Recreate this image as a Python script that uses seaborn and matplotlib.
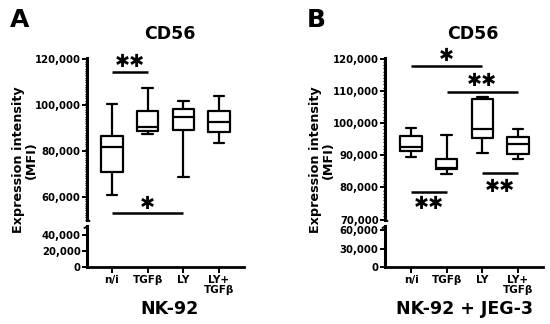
import matplotlib
matplotlib.use('Agg')
import matplotlib.pyplot as plt
import matplotlib.ticker as mticker
from matplotlib.lines import Line2D
import numpy as np
import pandas as pd
import seaborn as sns

# Группы (ось X)
groups = ['n/i', 'TGFβ', 'LY', 'LY+\nTGFβ']

# NK-92: min, Q1, медиана, Q3, max
nk92_ni = [60600, 70650, 81700, 86640, 100350]
nk92_tgfb = [87250, 88690, 90300, 97420, 107330]
nk92_ly = [68600, 89120, 94930, 98300, 101920]
nk92_ly_tgfb = [83580, 88120, 92490, 97420, 103970]

# NK-92 + JEG-3
jeg_ni = [89540, 91400, 92640, 95960, 98350]
jeg_tgfb = [84070, 85620, 86200, 88820, 96270]
jeg_ly = [90580, 95340, 98230, 107360, 108170]
jeg_ly_tgfb = [88730, 90280, 93380, 95560, 98040]

W, H = 550, 324


def make_df(values):
    rows = []
    for g, vals in zip(groups, values):
        for v in vals:
            rows.append({'group': g, 'value': v})
    return pd.DataFrame(rows)


df_a = make_df([nk92_ni, nk92_tgfb, nk92_ly, nk92_ly_tgfb])
df_b = make_df([jeg_ni, jeg_tgfb, jeg_ly, jeg_ly_tgfb])

sns.set_style('ticks')
plt.rcParams['font.family'] = ['DejaVu Sans']
plt.rcParams['font.weight'] = 'bold'
for k in ('text.color', 'axes.labelcolor', 'xtick.color', 'ytick.color',
          'axes.edgecolor'):
    plt.rcParams[k] = 'black'

fig = plt.figure(figsize=(W / 100, H / 100), dpi=100)


def rect(x0, x1, top, bottom):
    return [x0 / W, 1 - bottom / H, (x1 - x0) / W, (bottom - top) / H]


fmt = mticker.FuncFormatter(lambda v, p: '{:,.0f}'.format(v))


def draw_panel(df, x0, x1, up_lim, lo_lim, up_ticks, lo_ticks, xlim):
    ax_up = fig.add_axes(rect(x0, x1, 58, 220))
    ax_lo = fig.add_axes(rect(x0, x1, 226, 267))
    for ax in (ax_up, ax_lo):
        sns.boxplot(data=df, x='group', y='value', ax=ax, whis=(0, 100),
                    fill=False, color='black', linewidth=1.6, width=0.6,
                    capwidths=0.3)
        ax.set_xlim(*xlim)
        ax.set_xlabel('')
        ax.set_ylabel('')
        ax.patch.set_alpha(0)
        for s in ('top', 'right'):
            ax.spines[s].set_visible(False)
        ax.spines['left'].set_linewidth(2.2)
        ax.tick_params(axis='y', length=3.5, width=1.4, labelsize=7.3, pad=1)
        ax.yaxis.set_major_formatter(fmt)
    ax_up.set_ylim(*up_lim)
    ax_up.set_yticks(up_ticks)
    ax_up.yaxis.set_minor_locator(mticker.MultipleLocator(1000))
    ax_up.tick_params(axis='y', which='minor', length=1.8, width=0.9)
    ax_up.spines['bottom'].set_visible(False)
    ax_up.tick_params(axis='x', bottom=False, labelbottom=False)
    ax_lo.set_ylim(*lo_lim)
    ax_lo.set_yticks(lo_ticks)
    ax_lo.spines['bottom'].set_linewidth(2.0)
    ax_lo.tick_params(axis='x', length=4, width=1.4, labelsize=7.5, pad=2)
    for lab in ax_lo.get_xticklabels():
        lab.set_fontweight('bold')
        lab.set_linespacing(1.0)
    for lab in ax_lo.get_yticklabels() + ax_up.get_yticklabels():
        lab.set_fontweight('bold')
    # маленькие метки разрыва оси
    for xs, ys in (([x0, x0 + 2.5], [219.5, 221]), ([x0 - 2.5, x0], [228, 226.5])):
        fig.add_artist(Line2D([v / W for v in xs], [1 - v / H for v in ys],
                              color='black', lw=1.4,
                              transform=fig.transFigure))
    return ax_up, ax_lo


def sig(ax, x1, x2, y, text, ty):
    ax.plot([x1, x2], [y, y], color='black', lw=1.8, clip_on=False,
            solid_capstyle='butt')
    ax.text((x1 + x2) / 2, ty, text, ha='center', va='center_baseline',
            fontsize=13, fontweight='bold', clip_on=False)


# Панель A
a_up, a_lo = draw_panel(df_a, 87, 244, (49800, 120600), (0, 51000),
                        [60000, 80000, 100000, 120000], [0, 20000, 40000],
                        (-0.70, 3.70))
sig(a_up, 0, 1, 114300, '✱✱', 119700)
sig(a_up, 0, 2, 52750, '✱', 57800)

# Панель B
b_up, b_lo = draw_panel(df_b, 385, 543, (69900, 120200), (0, 66500),
                        [70000, 80000, 90000, 100000, 110000, 120000],
                        [0, 30000, 60000], (-0.73, 3.70))
sig(b_up, 0, 2, 117700, '✱', 121300)
sig(b_up, 1, 3, 109720, '✱✱', 113660)
sig(b_up, 0, 1, 78480, '✱✱', 75560)
sig(b_up, 2, 3, 84370, '✱✱', 80750)

# Тексты
fig.text(10 / W, 1 - 20 / H, 'A', fontsize=18, fontweight='bold', va='center')
fig.text(307 / W, 1 - 20 / H, 'B', fontsize=18, fontweight='bold', va='center')
fig.text(170 / W, 1 - 34 / H, 'CD56', fontsize=12.5, fontweight='bold',
         ha='center', va='center')
fig.text(473 / W, 1 - 34 / H, 'CD56', fontsize=12.5, fontweight='bold',
         ha='center', va='center')
fig.text(170 / W, 1 - 309 / H, 'NK-92', fontsize=12.5, fontweight='bold',
         ha='center', va='center')
fig.text(465 / W, 1 - 309 / H, 'NK-92 + JEG-3', fontsize=12.5,
         fontweight='bold', ha='center', va='center')
for xc in (25, 322):
    fig.text(xc / W, 1 - 160 / H, 'Expression intensity\n(MFI)', fontsize=9.2,
             fontweight='bold', rotation=90, ha='center', va='center',
             multialignment='center', linespacing=1.05)

fig.savefig('out.png', dpi=100)
